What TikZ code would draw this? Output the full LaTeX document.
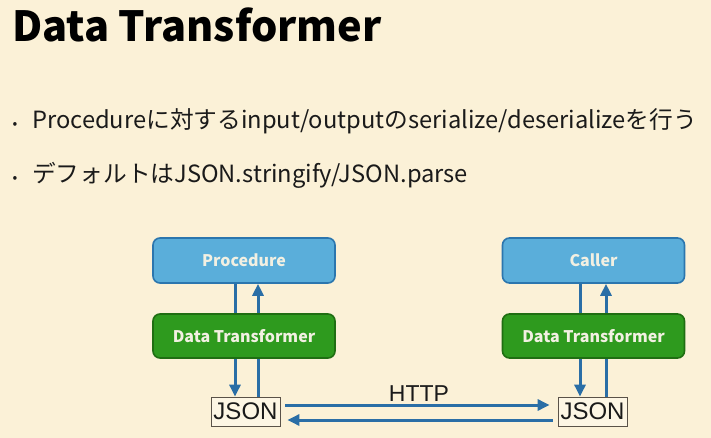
\documentclass[tikz,border=0pt]{standalone}
\usepackage{fontspec}
\setmainfont{Noto Sans CJK JP}
\newfontfamily\helv{Liberation Sans}
\usetikzlibrary{arrows.meta}
\definecolor{bg}{HTML}{FBF1D7}
\definecolor{bluefill}{HTML}{5AAEDA}
\definecolor{blueline}{HTML}{2B76AE}
\definecolor{greenfill}{HTML}{2E9A1E}
\definecolor{greenline}{HTML}{1F6E12}
\definecolor{arrowblue}{HTML}{2A6EA6}
\definecolor{boxtext}{HTML}{F2F0E2}
\definecolor{jsonfill}{HTML}{FDF6E4}
\definecolor{jsonline}{HTML}{5A5248}
\definecolor{textcol}{HTML}{1A1A1A}
\tikzset{
  procbox/.style={draw=blueline, line width=1.6pt, fill=bluefill, rounded corners=7pt,
    minimum width=182pt, minimum height=45pt, inner sep=0pt,
    text=boxtext, font=\fontsize{16}{18}\selectfont\bfseries},
  dtbox/.style={draw=greenline, line width=1.6pt, fill=greenfill, rounded corners=7pt,
    minimum width=182pt, minimum height=44pt, inner sep=0pt,
    text=boxtext, font=\fontsize{16}{18}\selectfont\bfseries},
  jsonbox/.style={draw=jsonline, line width=0.8pt, fill=jsonfill,
    minimum width=69pt, minimum height=29pt, inner sep=0pt,
    text=textcol, font=\helv\fontsize{24}{26}\selectfont},
  conn/.style={draw=arrowblue, line width=3pt},
  arr/.style={conn, -{Triangle[length=12pt,width=11pt]}},
  bullettext/.style={anchor=base west, inner sep=0pt, text=textcol, font=\fontsize{23.7}{26}\selectfont},
  bulletdot/.style={anchor=base, inner sep=0pt, text=textcol, font=\fontsize{14}{16}\selectfont},
}
\begin{document}
\begin{tikzpicture}[x=1pt,y=-1pt]
\fill[bg] (0,0) rectangle (711,438);
\useasboundingbox (0,0) rectangle (711,438);

\node[anchor=base west, inner sep=0pt, text=black, font=\fontsize{41.5}{46}\selectfont\bfseries] (title) at (12,42) {Data Transformer};

\node[bulletdot] (b1) at (15,129) {•};
\node[bullettext] (t1) at (32,129) {Procedureに対するinput/outputのserialize/deserializeを行う};
\node[bulletdot] (b2) at (15,183) {•};
\node[bullettext] (t2) at (32,183) {デフォルトはJSON.stringify/JSON.parse};

\node[procbox] (proc) at (244,260.5) {Procedure};
\node[dtbox] (dtl) at (244,336) {Data Transformer};
\node[jsonbox] (jsonl) at (245.5,411.5) {JSON};

\node[procbox] (caller) at (593.5,260.5) {Caller};
\node[dtbox] (dtr) at (593.5,336) {Data Transformer};
\node[jsonbox] (jsonr) at (592.5,411.5) {JSON};

\coordinate (xla) at (235,0);
\coordinate (xlb) at (258,0);
\coordinate (xra) at (580,0);
\coordinate (xrb) at (606,0);
\coordinate (yup) at (0,405);
\coordinate (ydn) at (0,420);

% left stack
\draw[conn] (proc.south -| xla) -- (dtl.north -| xla);
\draw[arr] (dtl.north -| xlb) -- (proc.south -| xlb);
\draw[arr] (dtl.south -| xla) -- (jsonl.north -| xla);
\draw[conn] (jsonl.north -| xlb) -- (dtl.south -| xlb);

% right stack
\draw[conn] (caller.south -| xra) -- (dtr.north -| xra);
\draw[arr] (dtr.north -| xrb) -- (caller.south -| xrb);
\draw[arr] (dtr.south -| xra) -- (jsonr.north -| xra);
\draw[conn] (jsonr.north -| xrb) -- (dtr.south -| xrb);

% HTTP
\draw[arr, shorten <=5pt, shorten >=8pt] (jsonl.east |- yup) -- node[above=2pt, text=textcol, font=\helv\fontsize{23}{25}\selectfont, inner sep=0pt] (http) {HTTP} (jsonr.west |- yup);
\draw[arr, shorten <=5pt, shorten >=7pt] (jsonr.west |- ydn) -- (jsonl.east |- ydn);
\end{tikzpicture}
\end{document}
